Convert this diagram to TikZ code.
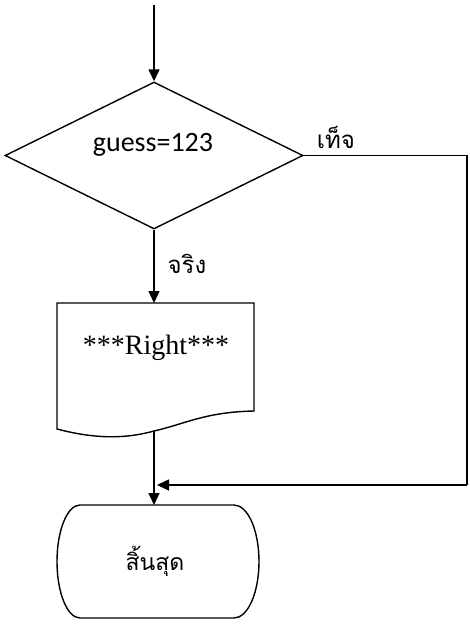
\documentclass[tikz,border=0pt]{standalone}
\usepackage{fontspec}
\setmainfont{Liberation Serif}
\newfontfamily\calib{Carlito}
\newfontfamily\thai[Script=Thai]{Loma}
\usetikzlibrary{arrows.meta,shapes.geometric}
\begin{document}
\begin{tikzpicture}[x=1pt,y=-1pt,
  line/.style={line width=1.4pt,black},
  flow/.style={line, -{Triangle[length=12pt,width=11pt]}},
  box/.style={line},
  lbl/.style={inner sep=0pt,font=\thai\fontsize{24}{28}\selectfont}]
\useasboundingbox (0,0) rectangle (469,624);

% decision
\node[shape=diamond, draw, line width=1.4pt, inner sep=0pt,
      minimum width=298pt, minimum height=147pt] (dec) at (154,155.5) {};
\node[inner sep=0pt, font=\calib\fontsize{28}{32}\selectfont] (dectxt) at (153,145) {guess=123};

% output document
\coordinate (dtl) at (57,303);
\coordinate (dtr) at (254,303);
\coordinate (dbr) at (254,411);
\coordinate (dbl) at (57,429);
\coordinate (dbot) at (154,431);
\draw[box] (dtl) -- (dtr) -- (dbr)
  .. controls (205,412) and (185,424) .. (dbot)
  .. controls (125,439) and (95,439) .. (dbl) -- cycle;
\node[inner sep=0pt, font=\fontsize{28}{32}\selectfont] (doc) at (156,348) {***Right***};

% terminator
\coordinate (ttop) at (154,505);
\draw[box] (80,505) -- (234,505) arc[start angle=-90,end angle=90,x radius=25pt,y radius=-56.5pt]
  -- (80,618) arc[start angle=90,end angle=270,x radius=23pt,y radius=-56.5pt] -- cycle;
\node[inner sep=0pt, font=\thai\fontsize{23}{27}\selectfont] (term) at (155,561) {สิ้นสุด};

% connectors
\coordinate (start) at (154,5);
\coordinate (rt) at (467,155.5);
\coordinate (rb) at (467,485);
\coordinate (merge) at (154,485);
\draw[flow] (start) -- (dec.north);
\draw[flow] (dec.south) -- (dtl -| dec.south);
\draw[line] (dec.east) -- (rt) -- (rb);
\draw[flow] (rb) -- ([xshift=3pt]merge);
\draw[flow] (dbot) -- (ttop);

% branch labels
\node[lbl] (no) at (336,137) {เท็จ};
\node[lbl] (yes) at (187,264) {จริง};
\end{tikzpicture}
\end{document}
